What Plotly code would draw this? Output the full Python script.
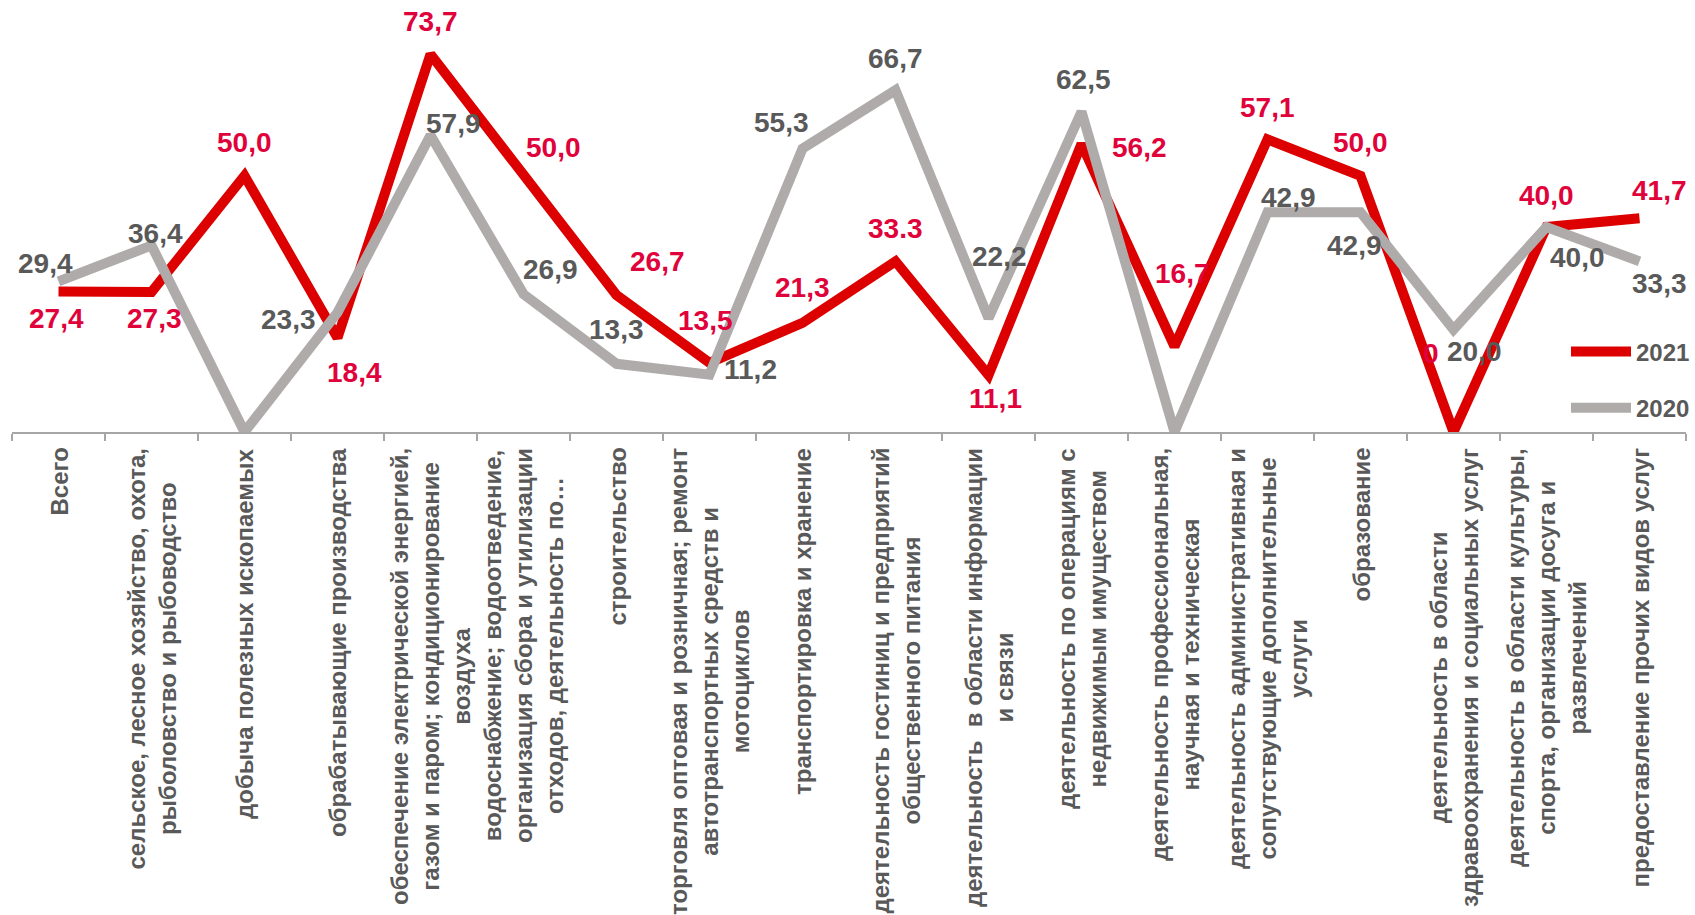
import plotly.graph_objects as go

# ---------------- data ----------------
categories = [
    "Всего",
    "сельское, лесное хозяйство, охота,<br>рыболовство и рыбоводство",
    "добыча полезных ископаемых",
    "обрабатывающие производства",
    "обеспечение электрической энергией,<br>газом и паром; кондиционирование<br>воздуха",
    "водоснабжение; водоотведение,<br>организация сбора и утилизации<br>отходов, деятельность по…",
    "строительство",
    "торговля оптовая и розничная; ремонт<br>автотранспортных средств и<br>мотоциклов",
    "транспортировка и хранение",
    "деятельность гостиниц и предприятий<br>общественного питания",
    "деятельность  в области информации<br>и связи",
    "деятельность по операциям с<br>недвижимым имуществом",
    "деятельность профессиональная,<br>научная и техническая",
    "деятельность административная и<br>сопутствующие дополнительные<br>услуги",
    "образование",
    "деятельность в области<br>здравоохранения и социальных услуг",
    "деятельность в области культуры,<br>спорта, организации досуга и<br>развлечений",
    "предоставление прочих видов услуг",
]

values_2021 = [27.4, 27.3, 50.0, 18.4, 73.7, 50.0, 26.7, 13.5, 21.3, 33.3,
               11.1, 56.2, 16.7, 57.1, 50.0, 0.0, 40.0, 41.7]
values_2020 = [29.4, 36.4, 0.0, 23.3, 57.9, 26.9, 13.3, 11.2, 55.3, 66.7,
               22.2, 62.5, 0.0, 42.9, 42.9, 20.0, 40.0, 33.3]

labels_2021 = ["27,4", "27,3", "50,0", "18,4", "73,7", "50,0", "26,7", "13,5", "21,3",
               "33.3", "11,1", "56,2", "16,7", "57,1", "50,0", "0", "40,0", "41,7"]
labels_2020 = ["29,4", "36,4", "", "23,3", "57,9", "26,9", "13,3", "11,2", "55,3",
               "66,7", "22,2", "62,5", "", "42,9", "42,9", "20,0", "40,0", "33,3"]

# ---------------- styles ----------------
RED_LINE = "#DC0000"
RED_TEXT = "#E0023A"
GRAY_LINE = "#AFABAB"
GRAY_TEXT = "#595959"
AXIS = "#A6A6A6"
FONT = "Liberation Sans, Arial, sans-serif"

# label offsets in pixels (dx right, dy down) relative to each point
off_2021 = [(-2, 27), (3, 26), (0, -33), (17, 35), (0, -33), (30, -28), (41, -34),
            (-4, -42), (0, -35), (0, -33), (7, 23), (58, 4), (8, -73), (0, -32),
            (0, -33), (-23, -79), (0, -32), (20, -28)]
off_2020 = [(-13, -18), (4, -12), (0, 0), (-49, 7), (23, -12), (27, -25), (0, -34),
            (41, -5), (-21, -26), (0, -32), (11, -62), (2, -32), (0, 0), (21, -15),
            (-6, 33), (21, 22), (31, 30), (20, 22)]

fig = go.Figure()
fig.add_trace(go.Scatter(
    x=categories, y=values_2021, mode="lines", name="2021",
    line=dict(color=RED_LINE, width=10), legendgroup="a", hoverinfo="skip",
))
fig.add_trace(go.Scatter(
    x=categories, y=values_2020, mode="lines", name="2020",
    line=dict(color=GRAY_LINE, width=10), legendgroup="b", hoverinfo="skip",
))

annotations = []
for cat, v, lab, (dx, dy) in zip(categories, values_2021, labels_2021, off_2021):
    if lab:
        annotations.append(dict(x=cat, y=v, xref="x", yref="y", text=lab, showarrow=False,
                                xshift=dx, yshift=-dy, xanchor="center", yanchor="middle",
                                font=dict(family=FONT, size=28, color=RED_TEXT, weight="bold")))
for cat, v, lab, (dx, dy) in zip(categories, values_2020, labels_2020, off_2020):
    if lab:
        annotations.append(dict(x=cat, y=v, xref="x", yref="y", text=lab, showarrow=False,
                                xshift=dx, yshift=-dy, xanchor="center", yanchor="middle",
                                font=dict(family=FONT, size=28, color=GRAY_TEXT, weight="bold")))
# category labels (rotated, centred lines)
for cat in categories:
    annotations.append(dict(x=cat, y=0, xref="x", yref="paper", text=cat, showarrow=False,
                            textangle=-90, xanchor="center", yanchor="top", align="center",
                            yshift=-14,
                            font=dict(family=FONT, size=24, color=GRAY_TEXT, weight="bold")))

fig.update_layout(
    width=1695, height=915,
    margin=dict(l=12, r=9, t=22, b=483, autoexpand=False),
    paper_bgcolor="white", plot_bgcolor="white",
    showlegend=True,
    legend=dict(
        xref="container", yref="container",
        x=1.0, xanchor="right",
        y=1 - 380 / 915, yanchor="middle",
        traceorder="grouped", tracegroupgap=22, itemwidth=60,
        font=dict(family=FONT, size=24, color=GRAY_TEXT, weight="bold"),
        bgcolor="rgba(0,0,0,0)", borderwidth=0,
    ),
    xaxis=dict(
        type="category", range=[-0.5, 17.5],
        showticklabels=False, showgrid=False, zeroline=False,
        showline=True, linecolor=AXIS, linewidth=1.5,
        ticks="outside", tickson="boundaries", ticklen=7, tickwidth=1.5, tickcolor=AXIS,
        fixedrange=True,
    ),
    yaxis=dict(
        range=[0, 80], visible=False, showgrid=False, zeroline=False, fixedrange=True,
    ),
    annotations=annotations,
)

fig.write_html(
    "out.html",
    config={"displayModeBar": False},
    post_script="document.body.style.margin='0px';document.body.style.overflow='hidden';",
)
